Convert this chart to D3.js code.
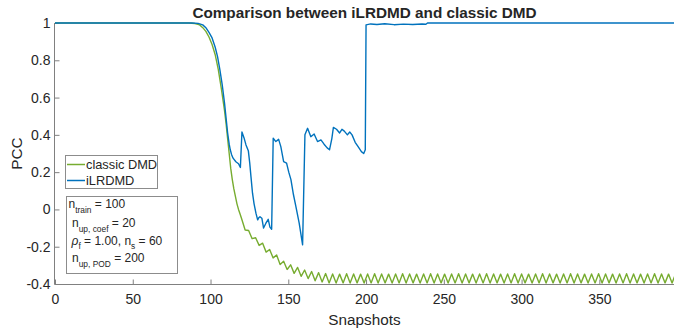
<!DOCTYPE html>
<html>
<head>
<meta charset="utf-8">
<script src="https://cdn.jsdelivr.net/npm/d3@7"></script>
<style>
  html, body { margin: 0; padding: 0; background: #fff; }
  svg { display: block; }
  text { font-family: "Liberation Sans", Arial, Helvetica, sans-serif; fill: #262626; }
</style>
</head>
<body>
<svg id="chart" width="674" height="333"></svg>
<script>
// ---------------- data ----------------
const titleText = "Comparison between iLRDMD and classic DMD";
const xLabelText = "Snapshots";
const yLabelText = "PCC";
const xTickValues = [0, 50, 100, 150, 200, 250, 300, 350];
const yTickValues = [-0.4, -0.2, 0, 0.2, 0.4, 0.6, 0.8, 1];
const yTickLabels = ["-0.4", "-0.2", "0", "0.2", "0.4", "0.6", "0.8", "1"];
const seriesNames = ["classic DMD", "iLRDMD"];
const seriesColors = ["#77AC30", "#0072BD"];

// classic DMD
const classicX = [
  0, 86, 90, 93, 95, 97, 99, 101, 103, 105, 107, 109, 110, 111, 112, 113, 114, 115, 116, 117, 118, 119,
  120, 122.25, 124.5, 126.75, 129, 131.25, 133.5, 135.75, 138, 140.25, 142.5, 144.75, 147, 149.25,
  151.5, 153.75, 156, 158.25, 160.5, 162.75, 165, 167.25, 169.5, 171.75, 174,
  176.25, 178.5, 180.75, 183, 185.25, 187.5, 189.75, 192, 194.25, 196.5, 198.75, 201,
  203.25, 205.5, 207.75, 210, 212.25, 214.5, 216.75, 219, 221.25, 223.5, 225.75, 228,
  230.25, 232.5, 234.75, 237, 239.25, 241.5, 243.75, 246, 248.25, 250.5, 252.75, 255,
  257.25, 259.5, 261.75, 264, 266.25, 268.5, 270.75, 273, 275.25, 277.5, 279.75, 282,
  284.25, 286.5, 288.75, 291, 293.25, 295.5, 297.75, 300, 302.25, 304.5, 306.75, 309,
  311.25, 313.5, 315.75, 318, 320.25, 322.5, 324.75, 327, 329.25, 331.5, 333.75, 336,
  338.25, 340.5, 342.75, 345, 347.25, 349.5, 351.75, 354, 356.25, 358.5, 360.75, 363,
  365.25, 367.5, 369.75, 372, 374.25, 376.5, 378.75, 381, 383.25, 385.5, 387.75, 390,
  392.25, 394.5, 396.75, 399
];
const classicY = [
  1, 1, 0.997, 0.99, 0.975, 0.955, 0.925, 0.885, 0.83, 0.75, 0.645, 0.53, 0.46, 0.38, 0.30, 0.22, 0.16, 0.11, 0.07, 0.03, 0.0, -0.025,
  -0.05, -0.11, -0.113, -0.157, -0.152, -0.193, -0.181, -0.229, -0.215, -0.26, -0.244, -0.296, -0.278, -0.322,
  -0.297, -0.343, -0.311, -0.359, -0.325, -0.371, -0.333, -0.383, -0.339, -0.389, -0.344,
  -0.394, -0.346, -0.395, -0.347, -0.394, -0.345, -0.395, -0.346, -0.394, -0.347, -0.395, -0.346,
  -0.394, -0.345, -0.395, -0.346, -0.394, -0.347, -0.395, -0.346, -0.394, -0.345, -0.395, -0.346,
  -0.394, -0.347, -0.395, -0.346, -0.394, -0.345, -0.395, -0.346, -0.394, -0.347, -0.395, -0.346,
  -0.394, -0.345, -0.395, -0.346, -0.394, -0.347, -0.395, -0.346, -0.394, -0.345, -0.395, -0.346,
  -0.394, -0.347, -0.395, -0.346, -0.394, -0.345, -0.395, -0.346, -0.394, -0.347, -0.395, -0.346,
  -0.394, -0.345, -0.395, -0.346, -0.394, -0.347, -0.395, -0.346, -0.394, -0.345, -0.395, -0.346,
  -0.394, -0.347, -0.395, -0.346, -0.394, -0.345, -0.395, -0.346, -0.394, -0.347, -0.395, -0.346,
  -0.394, -0.345, -0.395, -0.346, -0.394, -0.347, -0.395, -0.346, -0.394, -0.345, -0.395, -0.346,
  -0.394, -0.347, -0.395, -0.346
];

// iLRDMD
const ilrX = [
  0, 88, 92, 95, 97, 99, 101, 103, 104.5, 106, 107.5, 109, 110, 111, 112, 112.7, 113.5, 114.5, 116.3, 118, 119.2,
  120.2, 121.5, 122.8, 124.3, 125.2, 126, 127, 128, 129.2, 130.3, 131, 131.8, 133, 134.1, 135.6, 137.1, 138.2, 139.3,
  140.3, 142, 143.8, 145.2, 147, 148.9, 150.3, 151.7, 153.3, 154.9, 157, 159.2,
  160.7, 162.4, 164.5, 166.6, 168.8, 171, 173, 175, 176.5, 178, 179, 181, 183, 184.5, 186, 188, 189.5, 191, 193, 195, 197, 198.5, 199.5,
  200, 203, 207, 212, 218, 224, 230, 236, 238.5, 239.5, 300, 399
];
const ilrY = [
  1, 1, 0.998, 0.99, 0.975, 0.95, 0.92, 0.87, 0.82, 0.75, 0.67, 0.57, 0.49, 0.41, 0.35, 0.32, 0.295, 0.275, 0.256, 0.245, 0.225,
  0.415, 0.385, 0.346, 0.315, 0.25, 0.176, 0.087, 0.03, -0.02, -0.056, -0.045, -0.039, -0.047, -0.10, -0.074, -0.053, -0.095, -0.106,
  0.382, 0.364, 0.376, 0.337, 0.256, 0.248, 0.20, 0.16, 0.08, 0.015, -0.074, -0.19,
  0.40, 0.435, 0.39, 0.405, 0.364, 0.373, 0.35, 0.33, 0.32, 0.38, 0.44, 0.43, 0.41, 0.43, 0.42, 0.40, 0.415, 0.40, 0.36, 0.335, 0.31, 0.30, 0.32,
  0.99, 0.995, 0.992, 0.996, 0.991, 0.994, 0.992, 0.995, 0.993, 1.0, 1.0, 1.0
];

const annotationLines = [
  { main: "n", sub: "train", rest: " = 100", italicFirst: false },
  { main: "n", sub: "up, coef", rest: " = 20", italicFirst: false },
  { main: "ρ", sub: "f", rest: " = 1.00, n", sub2: "s", rest2: " = 60", italicFirst: true },
  { main: "n", sub: "up, POD", rest: " = 200", italicFirst: false }
];

// ---------------- chart ----------------
const svg = d3.select("#chart");
svg.append("rect").attr("width", 674).attr("height", 333).attr("fill", "#fff");

const x = d3.scaleLinear().domain([0, 398]).range([55, 674]);
const y = d3.scaleLinear().domain([-0.4, 1]).range([284, 23]);

svg.append("defs").append("clipPath").attr("id", "clip")
  .append("rect").attr("x", 55).attr("y", 15).attr("width", 619).attr("height", 275);

const axisColor = "#808080";

// x axis (ticks inward)
const xAxis = d3.axisBottom(x).tickValues(xTickValues).tickSize(-5).tickPadding(10).tickFormat(d3.format("d"));
const gx = svg.append("g").attr("transform", "translate(0,284.5)").call(xAxis);
gx.select(".domain").remove();
gx.selectAll(".tick line").attr("stroke", axisColor);
gx.selectAll(".tick text").attr("font-size", 14).attr("fill", "#262626")
  .style("font-family", '"Liberation Sans", Arial, sans-serif');
svg.append("line").attr("x1", 55).attr("x2", 674).attr("y1", 284.5).attr("y2", 284.5).attr("stroke", axisColor);

// y axis (ticks inward)
const yAxis = d3.axisLeft(y).tickValues(yTickValues).tickSize(-5).tickPadding(4)
  .tickFormat((d) => yTickLabels[yTickValues.indexOf(d)]);
const gy = svg.append("g").attr("transform", "translate(54.5,0)").call(yAxis);
gy.select(".domain").remove();
gy.selectAll(".tick line").attr("stroke", axisColor);
gy.selectAll(".tick text").attr("font-size", 14).attr("fill", "#262626")
  .style("font-family", '"Liberation Sans", Arial, sans-serif');
svg.append("line").attr("x1", 54.5).attr("x2", 54.5).attr("y1", 23).attr("y2", 284.5).attr("stroke", axisColor);

// lines
const line = d3.line().x(d => x(d[0])).y(d => y(d[1]));
const classicData = classicX.map((v, i) => [v, classicY[i]]);
const ilrData = ilrX.map((v, i) => [v, ilrY[i]]);
const plot = svg.append("g").attr("clip-path", "url(#clip)");
plot.append("path").datum(classicData).attr("d", line).attr("fill", "none")
  .attr("stroke", seriesColors[0]).attr("stroke-width", 1.4).attr("stroke-linejoin", "round");
plot.append("path").datum(ilrData).attr("d", line).attr("fill", "none")
  .attr("stroke", seriesColors[1]).attr("stroke-width", 1.4).attr("stroke-linejoin", "round");

// title & labels
svg.append("text").attr("x", 364.5).attr("y", 18).attr("text-anchor", "middle")
  .attr("font-size", 15.3).attr("font-weight", "bold").attr("fill", "#000").text(titleText);
svg.append("text").attr("x", 364.5).attr("y", 325).attr("text-anchor", "middle")
  .attr("font-size", 15.3).text(xLabelText);
svg.append("text").attr("transform", "translate(22,153.5) rotate(-90)").attr("text-anchor", "middle")
  .attr("font-size", 15.3).text(yLabelText);

// legend
const lg = svg.append("g");
lg.append("rect").attr("x", 65.5).attr("y", 155.5).attr("width", 92).attr("height", 33)
  .attr("fill", "#fff").attr("stroke", "#8c8c8c").attr("stroke-width", 1);
seriesNames.forEach((name, i) => {
  const cy = 164.5 + i * 16;
  lg.append("line").attr("x1", 67).attr("x2", 85).attr("y1", cy).attr("y2", cy)
    .attr("stroke", seriesColors[i]).attr("stroke-width", 1.5);
  lg.append("text").attr("x", 86).attr("y", cy + 4.6).attr("font-size", 12.8).attr("fill", "#000").text(name);
});

// annotation box
const ab = svg.append("g");
ab.append("rect").attr("x", 66.5).attr("y", 196.5).attr("width", 111).attr("height", 77)
  .attr("fill", "#fff").attr("stroke", "#8c8c8c").attr("stroke-width", 1);
const lineYs = [208, 227, 244.5, 262];
const lineXs = [68.5, 72, 71.5, 72];
annotationLines.forEach((L, i) => {
  const t = ab.append("text").attr("x", lineXs[i]).attr("y", lineYs[i]).attr("font-size", 12).attr("fill", "#000");
  const first = t.append("tspan").text(L.main);
  if (L.italicFirst) first.attr("font-style", "italic");
  t.append("tspan").attr("dy", 4.5).attr("font-size", 8.4).text(L.sub);
  t.append("tspan").attr("dy", -4.5).text(L.rest);
  if (L.sub2) {
    t.append("tspan").attr("dy", 4.5).attr("font-size", 8.4).text(L.sub2);
    t.append("tspan").attr("dy", -4.5).text(L.rest2);
  }
});
</script>
</body>
</html>
